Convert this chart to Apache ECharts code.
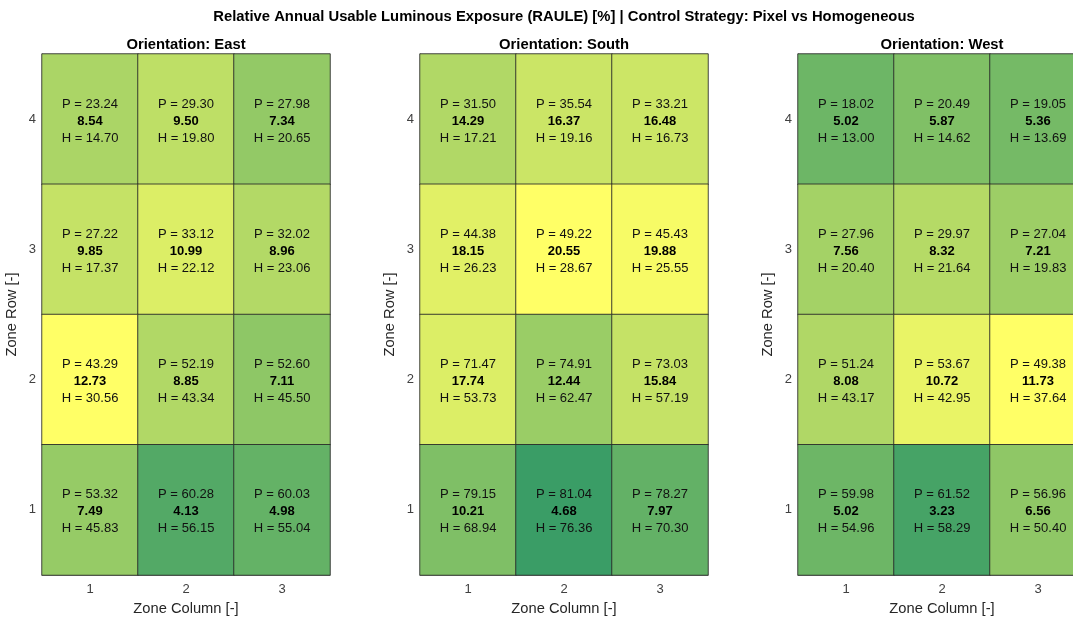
<!DOCTYPE html>
<html>
<head>
<meta charset="utf-8">
<script src="https://cdn.jsdelivr.net/npm/echarts@6/dist/echarts.min.js"></script>
<style>
  html, body { margin: 0; padding: 0; background: #fff; overflow: hidden; }
  #chart { width: 1073px; height: 617px; }
</style>
</head>
<body>
<div id="chart"></div>
<script>
// Zone grid labels
const columns = ['1', '2', '3'];
const rows = ['1', '2', '3', '4'];

// Values per orientation, rows listed from zone row 4 (top) down to zone row 1
// P = pixel control, H = homogeneous control, D = P - H
const eastP = [[23.24, 29.30, 27.98], [27.22, 33.12, 32.02], [43.29, 52.19, 52.60], [53.32, 60.28, 60.03]];
const eastD = [[8.54, 9.50, 7.34], [9.85, 10.99, 8.96], [12.73, 8.85, 7.11], [7.49, 4.13, 4.98]];
const eastH = [[14.70, 19.80, 20.65], [17.37, 22.12, 23.06], [30.56, 43.34, 45.50], [45.83, 56.15, 55.04]];

const southP = [[31.50, 35.54, 33.21], [44.38, 49.22, 45.43], [71.47, 74.91, 73.03], [79.15, 81.04, 78.27]];
const southD = [[14.29, 16.37, 16.48], [18.15, 20.55, 19.88], [17.74, 12.44, 15.84], [10.21, 4.68, 7.97]];
const southH = [[17.21, 19.16, 16.73], [26.23, 28.67, 25.55], [53.73, 62.47, 57.19], [68.94, 76.36, 70.30]];

const westP = [[18.02, 20.49, 19.05], [27.96, 29.97, 27.04], [51.24, 53.67, 49.38], [59.98, 61.52, 56.96]];
const westD = [[5.02, 5.87, 5.36], [7.56, 8.32, 7.21], [8.08, 10.72, 11.73], [5.02, 3.23, 6.56]];
const westH = [[13.00, 14.62, 13.69], [20.40, 21.64, 19.83], [43.17, 42.95, 37.64], [54.96, 58.29, 50.40]];

const orientations = ['East', 'South', 'West'];
const panels = [
  { P: eastP, D: eastD, H: eastH },
  { P: southP, D: southD, H: southH },
  { P: westP, D: westD, H: westH }
];

const mainTitle = 'Relative Annual Usable Luminous Exposure (RAULE) [%] | Control Strategy: Pixel vs Homogeneous';
const xName = 'Zone Column [-]';
const yName = 'Zone Row [-]';

const FONT = 'Liberation Sans, Arial, Helvetica, sans-serif';
const panelLeft = [42, 420, 798];
const panelTop = 54;
const panelW = 288;
const panelH = 521;

const fmt = v => v.toFixed(2);

const grids = [], xAxes = [], yAxes = [], series = [], visualMaps = [], texts = [];

panels.forEach((pn, k) => {
  // fixed pixel box; the last panel runs past the right edge of the page
  grids.push({
    left: panelLeft[k], top: panelTop, width: panelW, height: panelH,
    containLabel: false, outerBoundsMode: 'none'
  });
  xAxes.push({
    type: 'category', gridIndex: k, data: columns, position: 'bottom',
    name: xName, nameLocation: 'middle', nameGap: 26,
    nameTextStyle: { fontFamily: FONT, fontSize: 14.7, color: '#262626' },
    axisLine: { show: true, lineStyle: { color: '#9a9a9a', width: 1 } },
    axisTick: { show: false },
    axisLabel: { fontFamily: FONT, fontSize: 13, color: '#404040', margin: 8 },
    splitLine: { show: false }
  });
  yAxes.push({
    type: 'category', gridIndex: k, data: rows,
    name: yName, nameLocation: 'middle', nameGap: 23, nameRotate: 90,
    nameTextStyle: { fontFamily: FONT, fontSize: 14.7, color: '#262626' },
    axisLine: { show: true, lineStyle: { color: '#9a9a9a', width: 1 } },
    axisTick: { show: false },
    axisLabel: { fontFamily: FONT, fontSize: 13, color: '#404040', margin: 6 },
    splitLine: { show: false }
  });

  const data = [];
  let maxD = 0;
  pn.D.forEach((row, i) => {
    row.forEach((d, c) => {
      const y = rows.length - 1 - i;
      data.push({ value: [c, y, d], p: pn.P[i][c], h: pn.H[i][c] });
      if (d > maxD) maxD = d;
    });
  });

  series.push({
    type: 'heatmap', xAxisIndex: k, yAxisIndex: k, data: data,
    itemStyle: { borderColor: 'rgba(40,40,40,0.85)', borderWidth: 1 },
    emphasis: { disabled: true },
    label: {
      show: true,
      offset: [0, 2],
      formatter: (prm) => '{n|P = ' + fmt(prm.data.p) + '}\n{b|' + fmt(prm.data.value[2]) + '}\n{n|H = ' + fmt(prm.data.h) + '}',
      rich: {
        n: { fontFamily: FONT, fontSize: 13, color: '#111', lineHeight: 17 },
        b: { fontFamily: FONT, fontSize: 13, fontWeight: 'bold', color: '#000', lineHeight: 17 }
      }
    }
  });

  // summer-style ramp, scaled from zero to the panel's largest difference
  visualMaps.push({
    show: false, seriesIndex: k, dimension: 2, min: 0, max: maxD,
    inRange: { color: ['#008066', '#ffff66'] }
  });

  texts.push({
    type: 'text', x: panelLeft[k] + panelW / 2, y: 45,
    style: {
      text: 'Orientation: ' + orientations[k],
      fontFamily: FONT, fontSize: 14.8, fontWeight: 'bold', fill: '#000',
      textAlign: 'center', textVerticalAlign: 'middle'
    }
  });
});

texts.push({
  type: 'text', x: 564, y: 17,
  style: {
    text: mainTitle,
    fontFamily: FONT, fontSize: 14.8, fontWeight: 'bold', fill: '#000',
    textAlign: 'center', textVerticalAlign: 'middle'
  }
});

const chart = echarts.init(document.getElementById('chart'), null, { renderer: 'canvas' });
chart.setOption({
  backgroundColor: '#ffffff',
  animation: false,
  grid: grids,
  xAxis: xAxes,
  yAxis: yAxes,
  visualMap: visualMaps,
  series: series,
  graphic: texts
});
</script>
</body>
</html>
